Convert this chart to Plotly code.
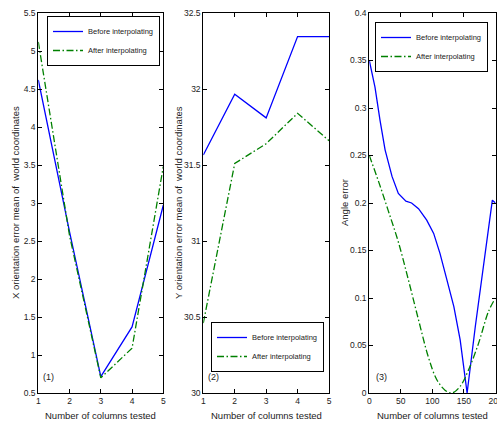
import plotly.graph_objects as go

# ---- data ----
cols = [1, 2, 3, 4, 5]
x_before = [4.62, 2.62, 0.715, 1.37, 2.97]
x_after = [5.12, 2.57, 0.70, 1.09, 3.48]

y_before = [31.566, 31.965, 31.81, 32.345, 32.345]
y_after = [30.46, 31.51, 31.64, 31.84, 31.66]

ang_before_x = [0, 9, 17, 25, 36, 46, 58, 67, 78, 91, 102, 112, 123, 134, 144, 155, 168, 181, 195, 200]
ang_before_y = [0.350, 0.322, 0.287, 0.256, 0.228, 0.210, 0.202, 0.200, 0.194, 0.182, 0.168,
                0.147, 0.119, 0.091, 0.056, 0.000, 0.070, 0.133, 0.203, 0.200]
ang_after_x = [0, 15, 30, 46, 62, 78, 94, 107, 120, 131, 144, 157, 173, 189, 200]
ang_after_y = [0.250, 0.222, 0.192, 0.159, 0.119, 0.077, 0.037, 0.014, 0.003, 0.000,
               0.007, 0.024, 0.052, 0.086, 0.100]

names = ["Before interpolating", "After interpolating"]
xtitle = "Number of columns tested"
ytitles = ["X orientation error mean of  world coordinates",
           "Y orientation error mean of  world coordinates",
           "Angle error"]
panel_tags = ["(1)", "(2)", "(3)"]

W, H = 497, 424
FONT = "Liberation Sans, Arial, sans-serif"
TXT = "#222222"
BLUE = "#0000ff"
GREEN = "#008000"
DASHDOT = "7px,2.5px,1.5px,2.5px"

fig = go.Figure()

def add_pair(xa, ya, xb, yb, xax, yax, leg, shape_after="linear"):
    fig.add_trace(go.Scatter(x=xa, y=ya, mode="lines", name=names[0],
                             line=dict(color=BLUE, width=1.3),
                             xaxis=xax, yaxis=yax, legend=leg))
    fig.add_trace(go.Scatter(x=xb, y=yb, mode="lines", name=names[1],
                             line=dict(color=GREEN, width=1.3, dash=DASHDOT, shape=shape_after),
                             xaxis=xax, yaxis=yax, legend=leg))

add_pair(cols, x_before, cols, x_after, "x", "y", "legend")
add_pair(cols, y_before, cols, y_after, "x2", "y2", "legend2")
add_pair(ang_before_x, ang_before_y, ang_after_x, ang_after_y, "x3", "y3", "legend3", "spline")

# pixel geometry
lefts = [38.3, 203.3, 369.3]
rights = [163.3, 329.0, 495.5]
top_px, bot_px = 13.0, 393.0
ydom = [(H - bot_px) / H, (H - top_px) / H]

axis_common = dict(showline=True, linecolor="black", linewidth=1, mirror="ticks",
                   ticks="inside", ticklen=4, tickcolor="black", showgrid=False,
                   zeroline=False, automargin=False, ticklabeloverflow="allow",
                   tickfont=dict(family=FONT, size=8.5, color=TXT))

xranges = [[1, 5], [1, 5], [0, 200]]
xdticks = [1, 1, 50]
yranges = [[0.5, 5.5], [30, 32.5], [0, 0.4]]
ydticks = [0.5, 0.5, 0.05]

layout = dict(width=W, height=H, margin=dict(l=0, r=0, t=0, b=0, autoexpand=False),
              paper_bgcolor="white", plot_bgcolor="white",
              font=dict(family=FONT, color=TXT), annotations=[])

for i in range(3):
    sx = "" if i == 0 else str(i + 1)
    layout["xaxis" + sx] = dict(axis_common, domain=[lefts[i] / W, rights[i] / W],
                                range=xranges[i], dtick=xdticks[i], tick0=0,
                                anchor="y" + sx)
    layout["yaxis" + sx] = dict(axis_common, domain=ydom, range=yranges[i],
                                dtick=ydticks[i], tick0=0, anchor="x" + sx)
    cx = (lefts[i] + rights[i]) / 2 / W
    layout["annotations"].append(dict(text=xtitle, x=cx, y=(H - 415) / H, xref="paper", yref="paper",
                                      showarrow=False, font=dict(family=FONT, size=9.5, color=TXT),
                                      xanchor="center", yanchor="middle"))
    ytx = [15, 178, 344][i]
    layout["annotations"].append(dict(text=ytitles[i], x=ytx / W, y=(H - 203) / H, xref="paper", yref="paper",
                                      showarrow=False, textangle=-90,
                                      font=dict(family=FONT, size=9.5, color=TXT),
                                      xanchor="center", yanchor="middle"))
    tagx = [48.3, 213.3, 381][i]
    layout["annotations"].append(dict(text=panel_tags[i], x=tagx / W, y=(H - 377) / H, xref="paper", yref="paper",
                                      showarrow=False, font=dict(family=FONT, size=9, color=TXT),
                                      xanchor="center", yanchor="middle"))

leg_common = dict(bgcolor="white", bordercolor="black", borderwidth=1,
                  font=dict(family=FONT, size=7.5, color=TXT), xanchor="right", yanchor="top",
                  tracegroupgap=0, itemwidth=30)
layout["legend"] = dict(leg_common, x=160.0 / W, y=(H - 16) / H)
layout["legend2"] = dict(leg_common, x=324.0 / W, y=(H - 372) / H, yanchor="bottom")
layout["legend3"] = dict(leg_common, x=488.0 / W, y=(H - 22) / H)

fig.update_layout(**layout)
fig.write_html("out.html", config={"displayModeBar": False},
               post_script="document.body.style.margin='0';document.body.style.overflow='hidden';")
